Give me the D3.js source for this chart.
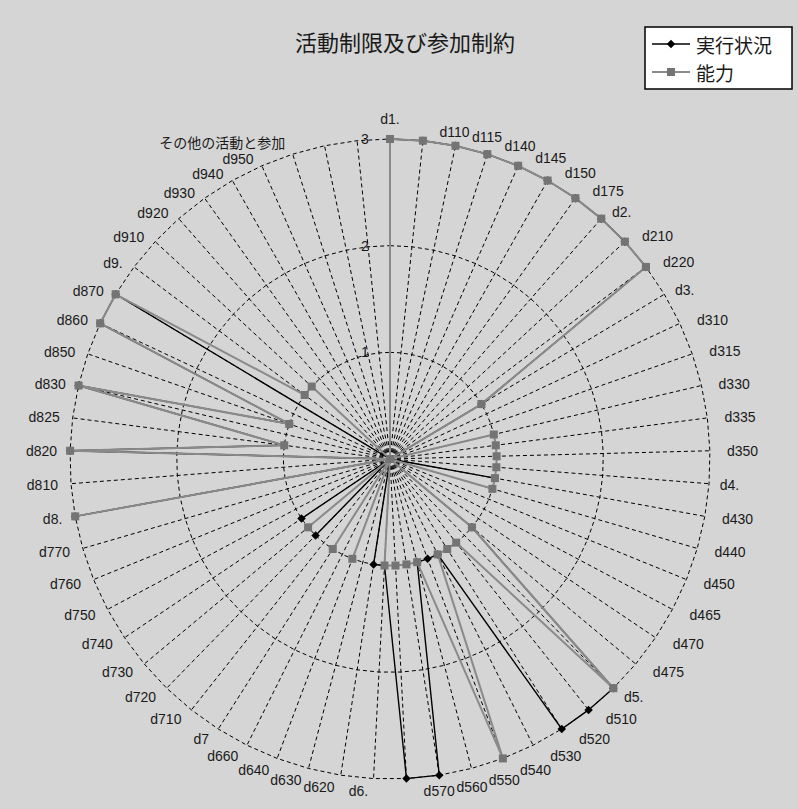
<!DOCTYPE html>
<html>
<head>
<meta charset="utf-8">
<script src="https://cdn.jsdelivr.net/npm/d3@7"></script>
<style>
  body { margin: 0; background: #d5d5d5; }
  svg { display: block; }
  text { font-family: "Liberation Sans", Arial, "Noto Sans CJK JP", sans-serif; fill: #1a1a1a; }
  .title, .legend text { font-family: "Noto Sans CJK JP", sans-serif; }
</style>
</head>
<body>
<svg width="797" height="809"></svg>
<script>
const categories = [
  "d1.", "d110", "d115", "d140", "d145", "d150", "d175", "d2.", "d210", "d220",
  "d3.", "d310", "d315", "d330", "d335", "d350", "d4.", "d430", "d440", "d450",
  "d465", "d470", "d475", "d5.", "d510", "d520", "d530", "d540", "d550", "d560",
  "d570", "d6.", "d620", "d630", "d640", "d660", "d7", "d710", "d720", "d730",
  "d740", "d750", "d760", "d770", "d8.", "d810", "d820", "d825", "d830", "d850",
  "d860", "d870", "d9.", "d910", "d920", "d930", "d940", "d950", "その他の活動と参加", "",
  "",
];
// 実行状況
const performance = [
  3, 3, 3, 3, 3, 3, 3, 3, 3, 3,
  1, 0, 0, 0, 0, 0, 0, 1, 0, 0,
  0, 0, 1, 3, 3, 3, 1, 1, 1, 3,
  3, 1, 1, 0, 0, 0, 0, 0, 1, 0,
  1, 0, 0, 0, 3, 0, 3, 1, 3, 1,
  3, 3, 0, 0, 0, 0, 0, 0, 0, 0,
  0,
];
// 能力
const capacity = [
  3, 3, 3, 3, 3, 3, 3, 3, 3, 3,
  1, 0, 0, 1, 1, 1, 1, 1, 1, 0,
  0, 0, 1, 3, 1, 1, 1, 3, 1, 1,
  1, 1, 0, 0, 1, 0, 1, 0, 0, 1,
  0, 0, 0, 0, 3, 0, 3, 1, 3, 1,
  3, 3, 1, 1, 0, 0, 0, 0, 0, 0,
  0,
];
const ticks = [1, 2, 3];
const seriesNames = ["実行状況", "能力"];

const svg = d3.select("svg");

const cx = 390;
const cy = 459;
const radius = 320;

const chart = svg.append("g").attr("transform", `translate(${cx}, ${cy})`);

const rScale = d3.scaleLinear().domain([0, 3]).range([0, radius]);
const aScale = d3
  .scaleLinear()
  .domain([0, categories.length])
  .range([0, 2 * Math.PI]);

const px = (i, v) => rScale(v) * Math.sin(aScale(i));
const py = (i, v) => -rScale(v) * Math.cos(aScale(i));

// rings
chart
  .selectAll(".ring")
  .data(ticks)
  .enter()
  .append("path")
  .attr("class", "ring")
  .attr("d", (t) =>
    d3
      .lineRadial()
      .angle((d, i) => aScale(i))
      .radius(rScale(t))
      .curve(d3.curveLinearClosed)(categories)
  )
  .attr("fill", "none")
  .attr("stroke", "#000")
  .attr("stroke-width", 1)
  .style("stroke-dasharray", "4, 3");

// spokes
chart
  .selectAll(".spoke")
  .data(categories)
  .enter()
  .append("line")
  .attr("class", "spoke")
  .attr("x1", 0)
  .attr("y1", 0)
  .attr("x2", (d, i) => px(i, 3))
  .attr("y2", (d, i) => py(i, 3))
  .attr("stroke", "#000")
  .attr("stroke-width", 1)
  .style("stroke-dasharray", "4, 3");

// value axis labels
chart
  .selectAll(".tick-label")
  .data(ticks)
  .enter()
  .append("text")
  .attr("class", "tick-label")
  .attr("x", -25)
  .attr("y", (t) => -rScale(t))
  .attr("text-anchor", "middle")
  .attr("dominant-baseline", "central")
  .style("font-size", "14px")
  .text((t) => t);

// category labels
chart
  .selectAll(".cat")
  .data(categories)
  .enter()
  .append("text")
  .attr("class", "cat")
  .style("font-size", "14px")
  .attr("dominant-baseline", "central")
  .text((d) => d)
  .each(function (d, i) {
    const a = aScale(i);
    const s = Math.sin(a);
    const c = Math.cos(a);
    const x0 = px(i, 3);
    const y0 = py(i, 3);
    const w = this.getComputedTextLength();
    let dy = c > 0 ? 8.5 * c : 12 * c;
    if (s < 0 && c > 0) dy = 7 * c + (w > 60 ? 5 : 0); // upper left
    const el = d3.select(this);
    if (i === 0) {
      el.attr("text-anchor", "middle").attr("x", x0).attr("y", y0 - 20);
    } else if (s > 0) {
      el.attr("text-anchor", "start")
        .attr("x", x0 + 0.55 * w)
        .attr("y", y0 - dy);
    } else {
      el.attr("text-anchor", "end")
        .attr("x", x0 - (5 + 8 * Math.abs(s)))
        .attr("y", y0 - dy);
    }
  });

const radarLine = d3
  .lineRadial()
  .angle((d, i) => aScale(i))
  .radius((d) => rScale(d))
  .curve(d3.curveLinearClosed);

// 実行状況
chart
  .append("path")
  .attr("d", radarLine(performance))
  .attr("fill", "none")
  .attr("stroke", "#000")
  .attr("stroke-width", 1.4);

chart
  .selectAll(".perf-dot")
  .data(performance)
  .enter()
  .append("rect")
  .attr("class", "perf-dot")
  .attr("x", -3)
  .attr("y", -3)
  .attr("width", 6)
  .attr("height", 6)
  .attr("transform", (d, i) => `translate(${px(i, d)}, ${py(i, d)}) rotate(45)`)
  .attr("fill", "#000");

// 能力
chart
  .append("path")
  .attr("d", radarLine(capacity))
  .attr("fill", "none")
  .attr("stroke", "#8a8a8a")
  .attr("stroke-width", 2);

chart
  .selectAll(".cap-dot")
  .data(capacity)
  .enter()
  .append("rect")
  .attr("class", "cap-dot")
  .attr("x", (d, i) => px(i, d) - 4)
  .attr("y", (d, i) => py(i, d) - 4)
  .attr("width", 8)
  .attr("height", 8)
  .attr("fill", "#747474");

// title
svg
  .append("text")
  .attr("class", "title")
  .attr("x", 405)
  .attr("y", 41)
  .attr("text-anchor", "middle")
  .attr("dominant-baseline", "central")
  .style("font-size", "22px")
  .text("活動制限及び参加制約");

// legend
const legend = svg
  .append("g")
  .attr("class", "legend")
  .attr("transform", "translate(645, 27)");

legend
  .append("rect")
  .attr("width", 147)
  .attr("height", 62)
  .attr("fill", "#fff")
  .attr("stroke", "#000")
  .attr("stroke-width", 1.5);

const legendItems = legend
  .selectAll(".item")
  .data(seriesNames)
  .enter()
  .append("g")
  .attr("class", "item")
  .attr("transform", (d, i) => `translate(0, ${17 + i * 28})`);

legendItems
  .append("line")
  .attr("x1", 7)
  .attr("x2", 45)
  .attr("stroke", (d, i) => (i === 0 ? "#000" : "#8a8a8a"))
  .attr("stroke-width", (d, i) => (i === 0 ? 1.4 : 2));

legendItems
  .append("rect")
  .attr("x", (d, i) => (i === 0 ? -3 : -4))
  .attr("y", (d, i) => (i === 0 ? -3 : -4))
  .attr("width", (d, i) => (i === 0 ? 6 : 8))
  .attr("height", (d, i) => (i === 0 ? 6 : 8))
  .attr("transform", (d, i) => (i === 0 ? "translate(26, 0) rotate(45)" : "translate(26, 0)"))
  .attr("fill", (d, i) => (i === 0 ? "#000" : "#747474"));

legendItems
  .append("text")
  .attr("x", 51)
  .attr("dominant-baseline", "central")
  .style("font-size", "19px")
  .text((d) => d);
</script>
</body>
</html>
